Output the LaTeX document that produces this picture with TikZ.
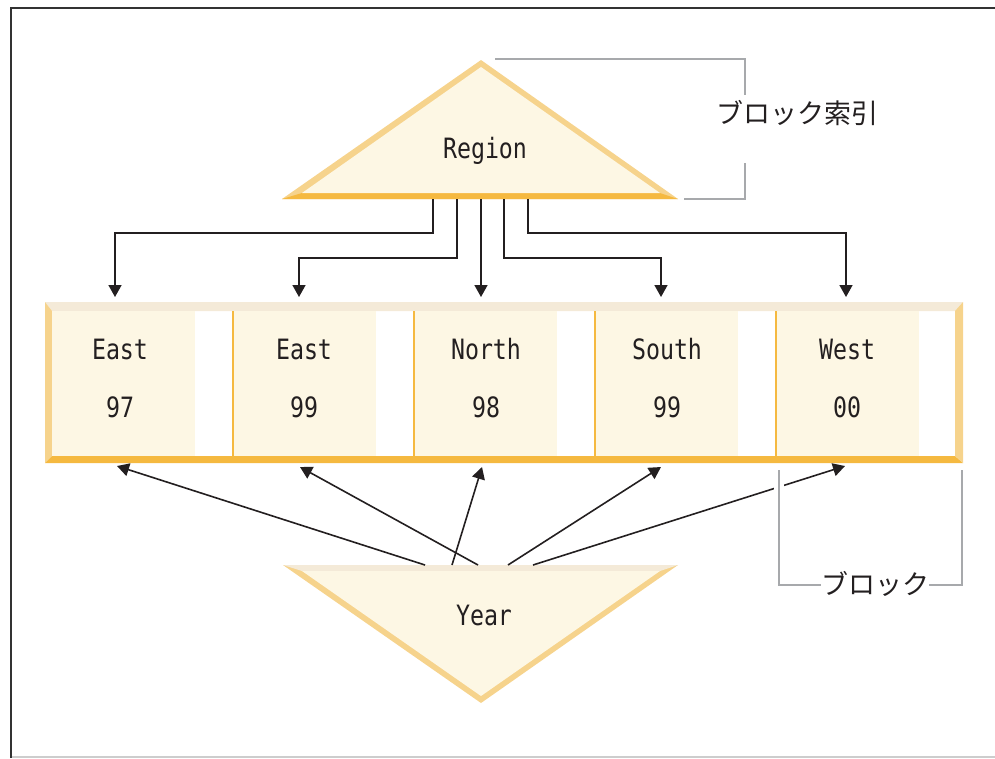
\documentclass[tikz,border=0pt]{standalone}
\usepackage{fontspec}
\usetikzlibrary{arrows.meta}
\newfontfamily\monof{DejaVu Sans Mono}[FakeStretch=0.83]
\newfontfamily\cjkf{Noto Sans CJK JP}
\definecolor{cream}{RGB}{253,247,228}
\definecolor{lorange}{RGB}{246,211,140}
\definecolor{dorange}{RGB}{245,185,64}
\definecolor{beige}{RGB}{244,234,216}
\definecolor{ink}{RGB}{35,31,32}
\definecolor{brgray}{RGB}{167,169,172}
\definecolor{framedark}{RGB}{50,50,50}
\definecolor{framelight}{RGB}{205,205,205}
\tikzset{
  lbl/.style={font=\monof\fontsize{28}{30}\selectfont, text=ink, inner sep=0pt, anchor=base},
  cjklbl/.style={font=\cjkf\fontsize{27}{30}\selectfont, text=ink, inner sep=0pt},
  cellbox/.style={fill=cream, draw=none, minimum width=142.5pt, minimum height=145pt, inner sep=0pt},
  conn/.style={draw=ink, line width=1.6pt, -{Triangle[length=12pt,width=13pt]}},
  bracket/.style={draw=brgray, line width=1.8pt},
  sepline/.style={draw=dorange, line width=2pt}
}
\begin{document}
\begin{tikzpicture}[x=1pt,y=-1pt]
\useasboundingbox (0,0) rectangle (995,758);
% frame
\draw[framedark, line width=2pt] (10.5,758) -- (10.5,7.5) -- (995,7.5);
\draw[framelight, line width=1.5pt] (11.5,756.8) -- (995,756.8);

% Region triangle
\fill[lorange] (481,60) -- (678,199) -- (282,199) -- cycle;
\fill[dorange] (282,199) -- (678,199) -- (660,193) -- (302,193) -- cycle;
\fill[cream] (481,67) -- (660,193) -- (302,193) -- cycle;
\node[lbl] (region) at (485,158) {Region};

% Year triangle
\fill[lorange] (283,565) -- (678,565) -- (481,703) -- cycle;
\fill[beige] (283,565) -- (678,565) -- (660,571) -- (302,571) -- cycle;
\fill[cream] (302,571) -- (660,571) -- (481,696) -- cycle;
\node[lbl] (year) at (484,625) {Year};

% block row frame
\fill[beige] (45,302) -- (963,302) -- (955,311) -- (52,311) -- cycle;
\fill[lorange] (45,302) -- (52,311) -- (52,456) -- (45,463) -- cycle;
\fill[dorange] (45,463) -- (52,456) -- (955,456) -- (963,463) -- cycle;
\fill[lorange] (963,302) -- (963,463) -- (955,456) -- (955,311) -- cycle;

% cells
\node[cellbox] (c1) at (123.5,383.5) {};
\node[cellbox] (c2) at (305,383.5) {};
\node[cellbox] (c3) at (486,383.5) {};
\node[cellbox] (c4) at (667,383.5) {};
\node[cellbox] (c5) at (847.5,383.5) {};
\draw[sepline] (233,311) -- (233,456);
\draw[sepline] (414,311) -- (414,456);
\draw[sepline] (595,311) -- (595,456);
\draw[sepline] (775.5,311) -- (775.5,456);

\node[lbl] (k1) at (120,359) {East};
\node[lbl] (y1) at (120,417) {97};
\node[lbl] (k2) at (304,359) {East};
\node[lbl] (y2) at (304,417) {99};
\node[lbl] (k3) at (486,359) {North};
\node[lbl] (y3) at (486,417) {98};
\node[lbl] (k4) at (667,359) {South};
\node[lbl] (y4) at (667,417) {99};
\node[lbl] (k5) at (847,359) {West};
\node[lbl] (y5) at (847,417) {00};

% region arrows
\coordinate (rs1) at (433,199);
\coordinate (rs2) at (457,199);
\coordinate (rs3) at (481,199);
\coordinate (rs4) at (504,199);
\coordinate (rs5) at (528,199);
\coordinate (rt1) at (115,297);
\coordinate (rt2) at (299,297);
\coordinate (rt3) at (481,297);
\coordinate (rt4) at (661,297);
\coordinate (rt5) at (846,297);
\draw[conn] (rs1) -- ++(0,34) -| (rt1);
\draw[conn] (rs2) -- ++(0,59) -| (rt2);
\draw[conn] (rs3) -- (rt3);
\draw[conn] (rs4) -- ++(0,59) -| (rt4);
\draw[conn] (rs5) -- ++(0,34) -| (rt5);

% year arrows
\coordinate (ys1) at (425,565);
\coordinate (ys2) at (478,565);
\coordinate (ys3) at (452,565);
\coordinate (ys4) at (508,565);
\coordinate (ys5) at (533,565);
\coordinate (yt1) at (117,466);
\coordinate (yt2) at (300,467);
\coordinate (yt3) at (482,467);
\coordinate (yt4) at (661,467);
\coordinate (yt5) at (845,466);
\draw[conn] (ys1) -- (yt1);
\draw[conn] (ys2) -- (yt2);
\draw[conn] (ys3) -- (yt3);
\draw[conn] (ys4) -- (yt4);
\draw[conn] (ys5) -- (yt5);

% bracket: block index
\node[cjklbl] (bidx) at (797,113) {ブロック索引};
\coordinate (b1) at (495,59);
\coordinate (b2) at (745,59);
\coordinate (b3) at (745,95);
\coordinate (b4) at (745,163);
\coordinate (b5) at (745,199);
\coordinate (b6) at (684,199);
\draw[bracket] (b1) -- (b2) -- (b3);
\draw[bracket] (b4) -- (b5) -- (b6);

% bracket: block
\node[cjklbl] (blk) at (875,584) {ブロック};
\coordinate (k1a) at (779,470);
\coordinate (k1b) at (779,585);
\coordinate (k2a) at (962,470);
\coordinate (k2b) at (962,585);
\draw[white, line width=10pt] (779,478) -- (779,502);
\draw[bracket] (k1a) -- (k1b) -- (blk.west |- k1b);
\draw[bracket] (k2a) -- (k2b) -- (blk.east |- k2b);
\end{tikzpicture}
\end{document}
